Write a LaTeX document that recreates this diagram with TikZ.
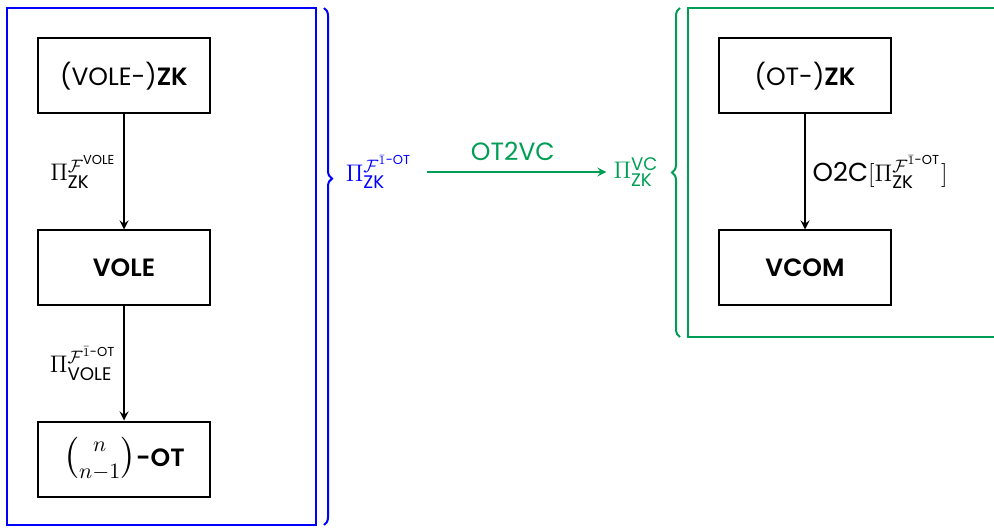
\documentclass[tikz,border=0pt]{standalone}
\usepackage{amsmath}
\usepackage[no-math]{fontspec}
\setmainfont{Poppins}[BoldFont={Poppins SemiBold}]
\setsansfont{Poppins}[BoldFont={Poppins SemiBold}]
\usetikzlibrary{decorations.pathreplacing}
\definecolor{ggreen}{RGB}{0,158,84}

\begin{document}
\begin{tikzpicture}[x=0.5pt,y=-0.5pt,>=stealth,
    block/.style={draw, line width=1pt, minimum width=86pt, minimum height=37.5pt, font=\fontsize{12.5}{15}\selectfont},
    lab/.style={font=\fontsize{13}{15}\selectfont}]
        \useasboundingbox (0,0) rectangle (994,528);
        % left frame
        \draw[blue, line width=1pt] (7,8) rectangle (316,525);
        \draw[blue, line width=1pt, decorate, decoration={brace, amplitude=4pt, aspect=0.33}] (324,8) -- (324,525);
        \node[block] (volezk) at (124,76) {(VOLE-)\textbf{ZK}};
        \node[block] (vole) at (124,268) {\textbf{VOLE}};
        \node[block] (ot) at (124,459) {{\fontsize{16}{18}\selectfont$\binom{n}{n-1}$}\textbf{-OT}};
        \draw[->, line width=1pt] (volezk) -- (vole) node[midway, left, lab] {$\Pi_{\textsf{ZK}}^{\mathcal{F}^{\textsf{VOLE}}}$};
        \draw[->, line width=1pt] (vole) -- (ot) node[midway, left, lab] {$\Pi_{\textsf{VOLE}}^{\mathcal{F}^{\bar{1}\textsf{-OT}}}$};
        
        % right frame
        \draw[ggreen, line width=1pt] (688,8) rectangle (1000,337);
        \draw[ggreen, line width=1pt, decorate, decoration={brace, amplitude=4pt}] (680,337) -- (680,8);
        \node[block] (otzk) at (805,76) {(OT-)\textbf{ZK}};
        \node[block] (vcom) at (805,268) {\textbf{VCOM}};
        \draw[->, line width=1pt] (otzk) -- (vcom) node[midway, right, lab] {O2C$[\Pi_{\textsf{ZK}}^{\mathcal{F}^{\bar{1}\textsf{-OT}}}]$};
        
        % compiler
        \node[blue, lab] (pizk) at (379,172) {$\Pi_{\textsf{ZK}}^{\mathcal{F}^{\bar{1}\textsf{-OT}}}$};
        \node[ggreen, lab] (pivc) at (636,172) {$\Pi_{\textsf{ZK}}^{\textsf{VC}}$};
        \draw[->, ggreen, line width=1pt, shorten <=4pt, shorten >=0pt] (pizk) -- (pivc) node[midway, above=2pt, lab, font=\fontsize{12.5}{15}\selectfont] {OT2VC};
    \end{tikzpicture}
\end{document}
